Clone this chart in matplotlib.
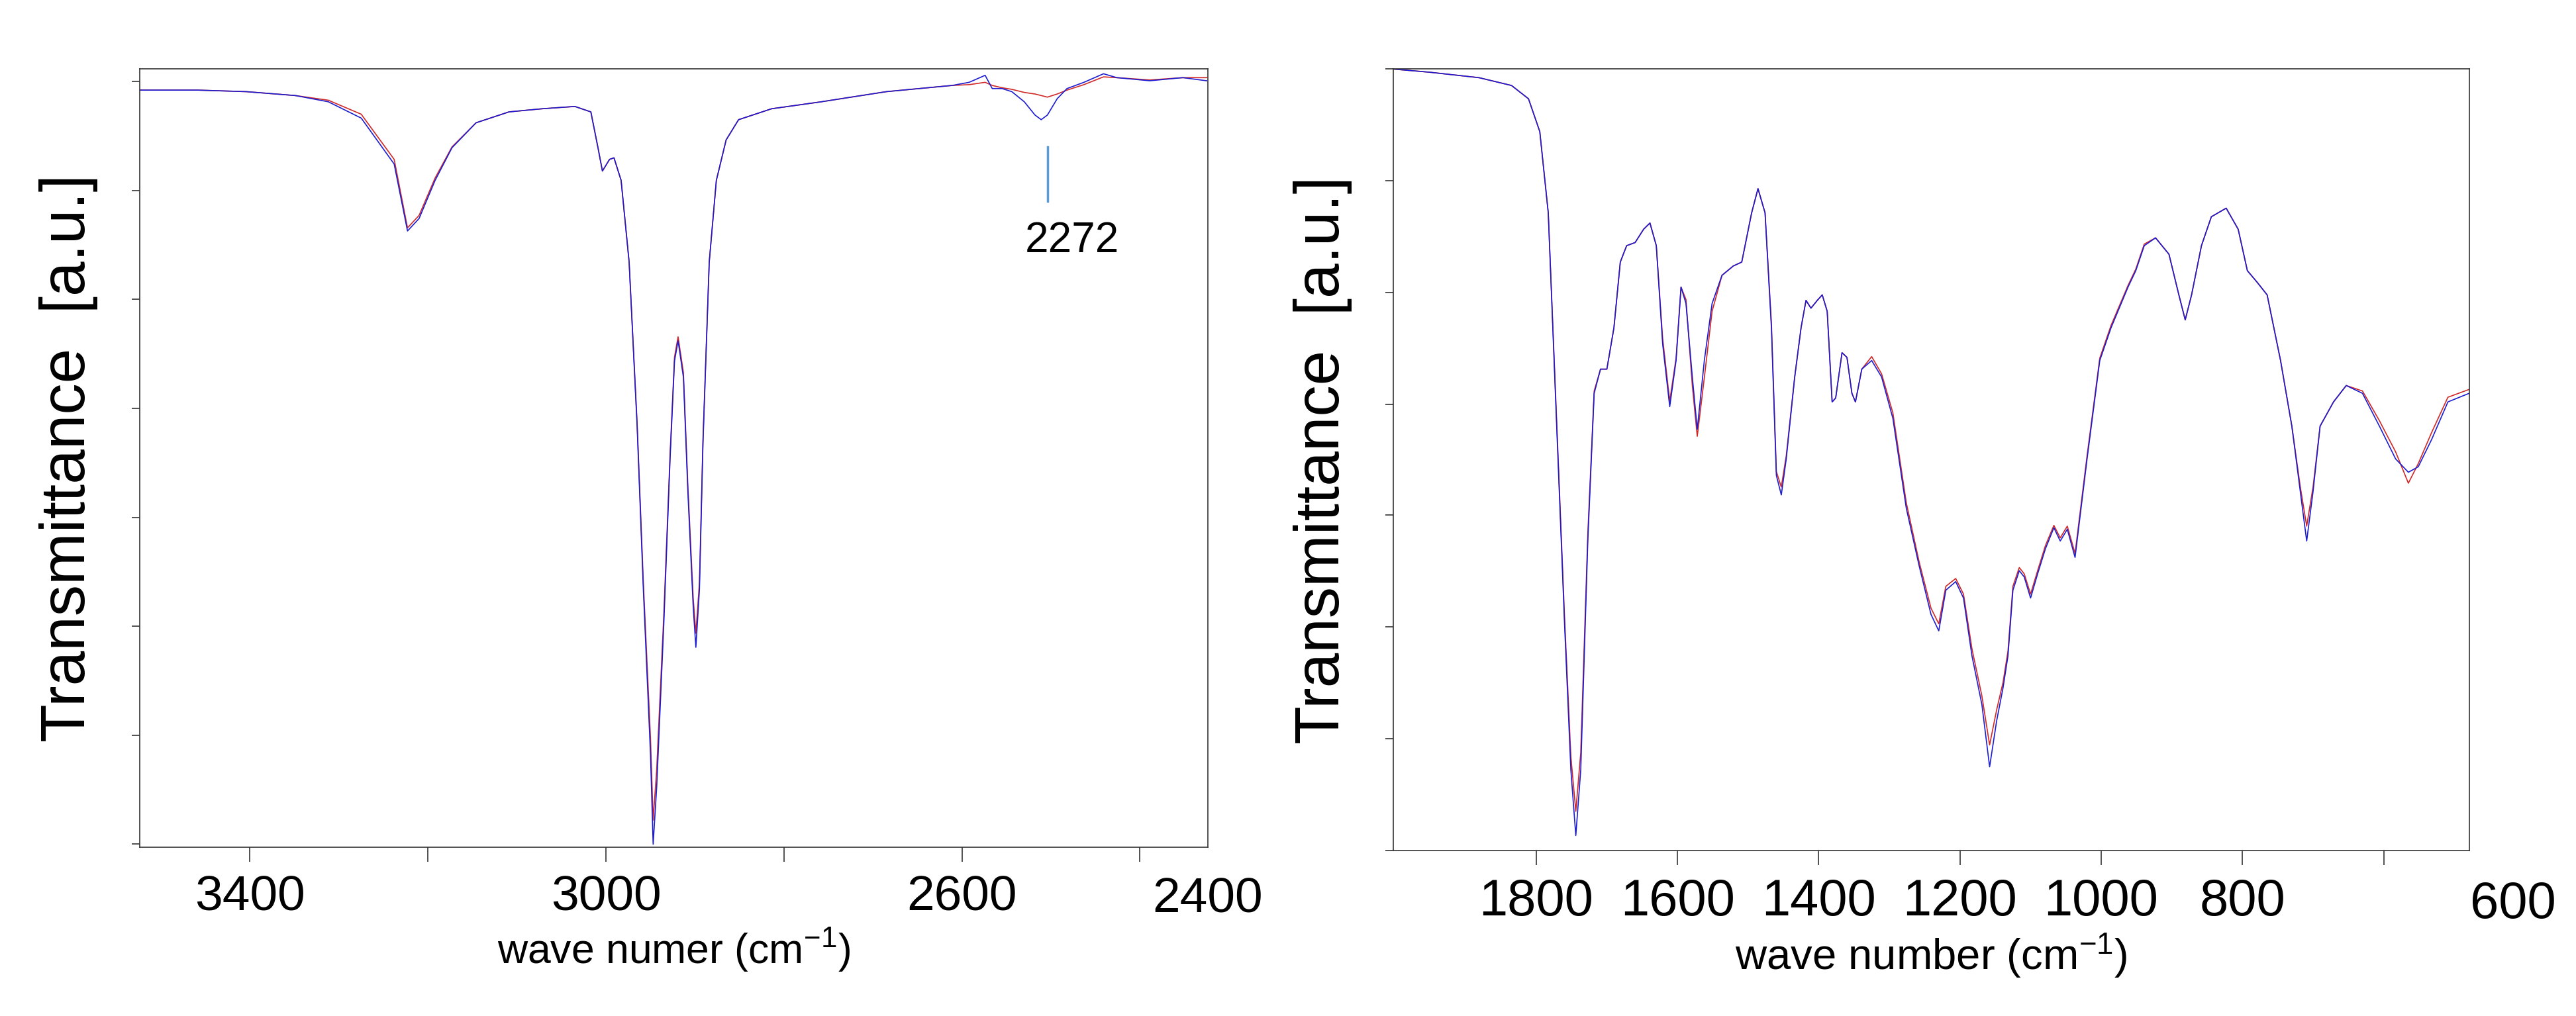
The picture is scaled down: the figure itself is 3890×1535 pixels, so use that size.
import matplotlib
matplotlib.use("Agg")
import matplotlib.pyplot as plt

plt.rcParams['font.family'] = ['Liberation Sans', 'DejaVu Sans']
plt.rcParams['mathtext.fontset'] = 'custom'
plt.rcParams['mathtext.rm'] = 'Liberation Sans'
plt.rcParams['mathtext.it'] = 'Liberation Sans'

# ---- left panel (high wavenumber region) ----
wn_left = [3524, 3459, 3404, 3349, 3312, 3275, 3238, 3223, 3210, 3192, 3173, 3146, 3109, 3072, 3035, 3017,
           3009, 3004, 2996, 2991, 2983, 2974, 2965, 2958, 2950, 2947, 2943, 2935, 2928, 2923, 2919, 2913,
           2908, 2902, 2899, 2895, 2891, 2884, 2876, 2865, 2851, 2814, 2758, 2685, 2611, 2592, 2574, 2566,
           2555, 2544, 2530, 2518, 2511, 2504, 2493, 2482, 2463, 2441, 2426, 2389, 2352, 2325]
blue_left = [97.3, 97.3, 97.1, 96.6, 95.8, 93.7, 87.8, 79.2, 80.8, 85.7, 89.9, 93.1, 94.5, 94.9, 95.2, 94.5,
             89.9, 86.9, 88.4, 88.6, 85.7, 75.2, 54.1, 33.1, 12.0, 0.4, 7.8, 28.8, 49.9, 62.5, 65.1, 60.4,
             45.7, 30.9, 25.7, 33.1, 52.0, 75.2, 85.7, 90.9, 93.5, 94.9, 95.8, 97.1, 97.9, 98.3, 99.2, 97.5,
             97.5, 97.1, 95.8, 94.1, 93.5, 94.1, 96.2, 97.5, 98.3, 99.4, 98.9, 98.5, 98.9, 98.5]
red_left = [97.3, 97.3, 97.1, 96.6, 96.0, 94.2, 88.4, 79.6, 81.2, 86.0, 90.0, 93.1, 94.5, 94.9, 95.2, 94.5,
            89.9, 86.9, 88.4, 88.6, 85.7, 75.2, 54.5, 34.0, 14.0, 3.5, 10.0, 30.0, 50.5, 63.0, 65.6, 61.0,
            46.5, 32.0, 27.5, 34.0, 52.5, 75.2, 85.7, 90.9, 93.5, 94.9, 95.8, 97.1, 97.9, 98.0, 98.3, 97.9,
            97.6, 97.4, 97.0, 96.8, 96.6, 96.4, 96.8, 97.3, 98.0, 99.0, 98.9, 98.6, 98.9, 98.9]
left_ticks = [3400, 3200, 3000, 2800, 2600, 2400]
left_ticklabels = ['3400', '', '3000', '', '2600', '']

# ---- right panel (fingerprint region) ----
wn_right = [2002, 1951, 1881, 1835, 1811, 1795, 1783, 1772, 1760, 1751, 1744, 1737, 1727, 1718, 1709, 1700,
            1690, 1681, 1672, 1660, 1648, 1639, 1630, 1621, 1611, 1602, 1595, 1588, 1579, 1572, 1562, 1551,
            1537, 1521, 1509, 1495, 1486, 1476, 1467, 1460, 1453, 1446, 1434, 1425, 1418, 1411, 1402, 1395,
            1388, 1381, 1376, 1367, 1360, 1353, 1348, 1339, 1325, 1311, 1295, 1276, 1258, 1241, 1230, 1220,
            1206, 1195, 1183, 1169, 1158, 1148, 1139, 1132, 1125, 1116, 1109, 1100, 1090, 1079, 1067, 1058,
            1048, 1037, 1020, 1002, 986, 962, 951, 939, 923, 904, 890, 881, 872, 858, 844, 823,
            806, 793, 779, 765, 746, 730, 718, 709, 700, 690, 671, 653, 630, 606, 583, 565,
            551, 532, 509, 479]
blue_right = [100.0, 99.6, 98.9, 97.9, 96.2, 92.0, 81.6, 56.4, 29.1, 10.3, 1.9, 10.3, 39.6, 58.5, 61.6, 61.6,
              66.9, 75.3, 77.4, 77.8, 79.5, 80.3, 77.4, 64.8, 56.8, 62.7, 72.1, 70.0, 60.6, 53.9, 62.7, 70.0,
              73.6, 74.8, 75.3, 81.6, 84.7, 81.6, 66.9, 48.0, 45.5, 50.1, 60.6, 66.9, 70.4, 69.4, 70.4, 71.1,
              69.0, 57.4, 57.9, 63.7, 63.1, 58.5, 57.4, 61.6, 62.7, 60.6, 55.3, 43.8, 36.5, 30.2, 28.1, 33.3,
              34.4, 32.3, 24.9, 18.7, 10.7, 16.6, 20.8, 24.9, 33.3, 35.8, 35.0, 32.3, 35.4, 38.6, 41.3, 39.6,
              41.1, 37.5, 50.1, 62.7, 66.9, 72.1, 74.2, 77.4, 78.4, 76.3, 71.1, 67.9, 71.1, 77.4, 81.1, 82.2,
              79.5, 74.2, 72.7, 71.1, 62.7, 54.3, 45.9, 39.6, 45.9, 54.3, 57.4, 59.5, 58.5, 54.3, 50.1, 48.4,
              49.1, 52.6, 57.4, 58.5]
red_right = [100.0, 99.6, 98.9, 97.9, 96.2, 92.0, 81.6, 57.0, 30.0, 12.0, 5.0, 12.5, 40.5, 58.8, 61.6, 61.6,
             66.9, 75.3, 77.4, 77.8, 79.5, 80.3, 77.4, 65.5, 57.5, 63.0, 72.1, 70.5, 59.5, 53.0, 60.5, 69.0,
             73.6, 74.8, 75.3, 81.6, 84.7, 81.6, 67.5, 48.5, 46.5, 50.5, 60.6, 66.9, 70.4, 69.4, 70.4, 71.1,
             69.0, 57.4, 57.9, 63.7, 63.1, 58.5, 57.4, 61.6, 63.2, 61.0, 56.0, 44.5, 37.0, 31.0, 29.0, 33.8,
             34.8, 32.8, 25.8, 19.8, 13.5, 18.0, 21.5, 25.5, 33.8, 36.2, 35.4, 32.8, 35.8, 39.0, 41.6, 40.0,
             41.5, 38.0, 50.5, 63.0, 67.2, 72.3, 74.4, 77.6, 78.4, 76.3, 71.1, 67.9, 71.1, 77.4, 81.1, 82.2,
             79.5, 74.2, 72.7, 71.1, 62.7, 54.3, 46.5, 41.5, 46.5, 54.3, 57.4, 59.5, 58.8, 55.0, 51.0, 47.0,
             49.5, 53.5, 58.0, 59.0]
right_ticks = [1800, 1600, 1400, 1200, 1000, 800, 600]
right_ticklabels = ['1800', '1600', '1400', '1200', '1000', '800', '']

left_yticks = [0.4, 14.4, 28.4, 42.4, 56.4, 70.4, 84.4, 98.4]
right_yticks = [0.0, 14.3, 28.6, 42.9, 57.1, 71.4, 85.7, 100.0]

BLUE = '#1c1cd0'
RED = '#d02828'

fig = plt.figure(figsize=(38.9, 15.35), dpi=100)
axL = fig.add_axes([0.0542, 0.166, 0.4146, 0.766])
axR = fig.add_axes([0.541, 0.163, 0.4175, 0.769])

for ax in (axL, axR):
    for s in ax.spines.values():
        s.set_linewidth(1.2)
        s.set_color('#333333')
    ax.tick_params(axis='x', direction='out', length=16, width=1.2, pad=14, color='#333333')
    ax.tick_params(axis='y', direction='out', length=9, width=1.2, labelleft=False, color='#333333')

axL.plot(wn_left, red_left, color=RED, lw=1.2)
axL.plot(wn_left, blue_left, color=BLUE, lw=1.2)
axL.set_xlim(3524, 2324)
axL.set_ylim(0, 100)
axL.set_xticks(left_ticks)
axL.set_xticklabels(left_ticklabels, fontsize=54)
axL.set_yticks(left_yticks)
axL.text(1.0, -0.038, '2400', transform=axL.transAxes, ha='center', va='top', fontsize=54)
axL.set_xlabel('wave numer (cm$^{-1}$)', fontsize=45, labelpad=6)
axL.set_ylabel('Transmittance  [a.u.]', fontsize=68, labelpad=36)
axL.plot([2504, 2504], [90.0, 83.0], color='#5b9bd5', lw=2.5)
axL.text(2476, 80.5, '2272', ha='center', va='top', fontsize=46)

axR.plot(wn_right, red_right, color=RED, lw=1.2)
axR.plot(wn_right, blue_right, color=BLUE, lw=1.2)
axR.set_xlim(2002, 479)
axR.set_ylim(0, 100)
axR.set_xticks(right_ticks)
axR.set_xticklabels(right_ticklabels, fontsize=56)
axR.set_yticks(right_yticks)
axR.text(1.041, -0.038, '600', transform=axR.transAxes, ha='center', va='top', fontsize=56)
axR.set_xlabel('wave number (cm$^{-1}$)', fontsize=47, labelpad=6)
axR.set_ylabel('Transmittance  [a.u.]', fontsize=68, labelpad=36)

fig.savefig('out.png', dpi=100, facecolor='white')
